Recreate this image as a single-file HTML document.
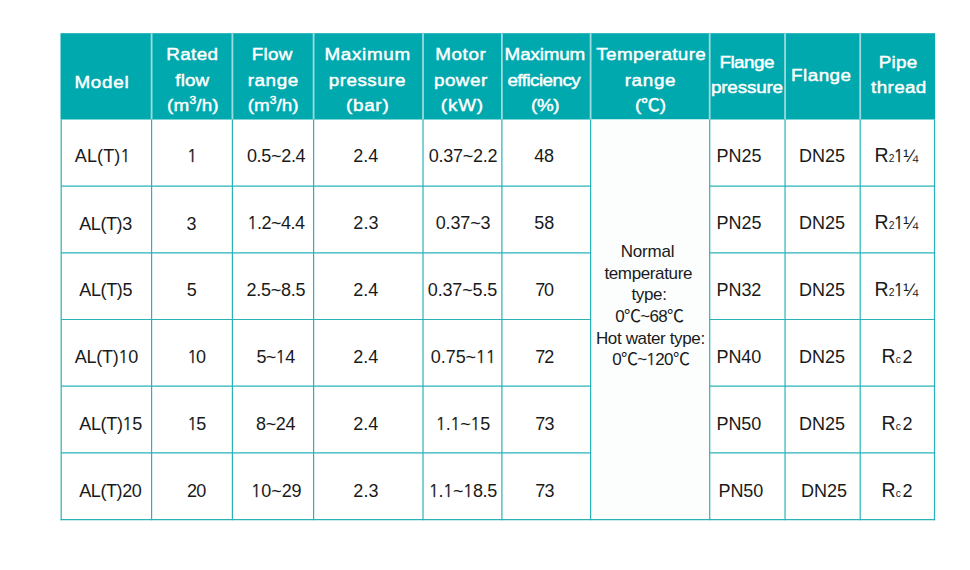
<!DOCTYPE html>
<html lang="en"><head><meta charset="utf-8"><title>AL(T) pump specifications</title>
<style>
html,body{margin:0;padding:0;background:#fff;}
body{width:970px;height:570px;position:relative;overflow:hidden;font-family:"Liberation Sans","Noto Sans CJK SC",sans-serif;}
svg.grid{position:absolute;left:0;top:0;}
.t{position:absolute;white-space:nowrap;line-height:20px;height:20px;transform-origin:0 50%;}
.h{color:#fff;font-size:17.3px;-webkit-text-stroke:0.45px #fff;transform-origin:0 50%;}
.b{color:#1a1a1a;font-size:18px;}
.tp{color:#1a1a1a;font-size:17px;}
.cj{font-family:"Noto Sans CJK SC","Liberation Sans",sans-serif;line-height:0;}
.o{font-family:"NanumGothic","Liberation Sans",sans-serif;font-size:96.4%;line-height:0;-webkit-text-stroke:0.25px #1a1a1a;margin-left:-0.5px;}
sup{font-size:64%;vertical-align:baseline;position:relative;top:-0.62em;line-height:0;}
.rr{font-size:19.5px;line-height:0;letter-spacing:0;}
.sb{font-size:57%;margin-left:0.2px;}

</style></head><body>
<svg class="grid" width="970" height="570" viewBox="0 0 970 570">
<rect x="60.5" y="33.2" width="874.6" height="86.3" fill="#00a9ae"/>
<rect x="590.6" y="119.5" width="119.1" height="400" fill="#fcfefe"/>
<line x1="151.6" y1="33.2" x2="151.6" y2="119.2" stroke="#9ddadd" stroke-width="1.8"/>
<line x1="232.4" y1="33.2" x2="232.4" y2="119.2" stroke="#9ddadd" stroke-width="1.8"/>
<line x1="313.6" y1="33.2" x2="313.6" y2="119.2" stroke="#9ddadd" stroke-width="1.8"/>
<line x1="423" y1="33.2" x2="423" y2="119.2" stroke="#9ddadd" stroke-width="1.8"/>
<line x1="501.9" y1="33.2" x2="501.9" y2="119.2" stroke="#9ddadd" stroke-width="1.8"/>
<line x1="590.6" y1="33.2" x2="590.6" y2="119.2" stroke="#9ddadd" stroke-width="1.8"/>
<line x1="709.7" y1="33.2" x2="709.7" y2="119.2" stroke="#9ddadd" stroke-width="1.8"/>
<line x1="785.05" y1="33.2" x2="785.05" y2="119.2" stroke="#9ddadd" stroke-width="1.8"/>
<line x1="860.2" y1="33.2" x2="860.2" y2="119.2" stroke="#9ddadd" stroke-width="1.8"/>
<line x1="61.2" y1="119.5" x2="61.2" y2="520.2" stroke="#28b2b8" stroke-width="1.2"/>
<line x1="151.6" y1="119.5" x2="151.6" y2="520.2" stroke="#28b2b8" stroke-width="1.2"/>
<line x1="232.4" y1="119.5" x2="232.4" y2="520.2" stroke="#28b2b8" stroke-width="1.2"/>
<line x1="313.6" y1="119.5" x2="313.6" y2="520.2" stroke="#28b2b8" stroke-width="1.2"/>
<line x1="423" y1="119.5" x2="423" y2="520.2" stroke="#28b2b8" stroke-width="1.2"/>
<line x1="501.9" y1="119.5" x2="501.9" y2="520.2" stroke="#28b2b8" stroke-width="1.2"/>
<line x1="590.6" y1="119.5" x2="590.6" y2="520.2" stroke="#28b2b8" stroke-width="1.2"/>
<line x1="709.7" y1="119.5" x2="709.7" y2="520.2" stroke="#28b2b8" stroke-width="1.2"/>
<line x1="785.05" y1="119.5" x2="785.05" y2="520.2" stroke="#28b2b8" stroke-width="1.2"/>
<line x1="860.2" y1="119.5" x2="860.2" y2="520.2" stroke="#28b2b8" stroke-width="1.2"/>
<line x1="934.5" y1="119.5" x2="934.5" y2="520.2" stroke="#28b2b8" stroke-width="1.2"/>
<line x1="61.2" y1="186.2" x2="590.6" y2="186.2" stroke="#28b2b8" stroke-width="1.2"/>
<line x1="709.7" y1="186.2" x2="934.5" y2="186.2" stroke="#28b2b8" stroke-width="1.2"/>
<line x1="61.2" y1="252.8" x2="590.6" y2="252.8" stroke="#28b2b8" stroke-width="1.2"/>
<line x1="709.7" y1="252.8" x2="934.5" y2="252.8" stroke="#28b2b8" stroke-width="1.2"/>
<line x1="61.2" y1="319.5" x2="590.6" y2="319.5" stroke="#28b2b8" stroke-width="1.2"/>
<line x1="709.7" y1="319.5" x2="934.5" y2="319.5" stroke="#28b2b8" stroke-width="1.2"/>
<line x1="61.2" y1="386.2" x2="590.6" y2="386.2" stroke="#28b2b8" stroke-width="1.2"/>
<line x1="709.7" y1="386.2" x2="934.5" y2="386.2" stroke="#28b2b8" stroke-width="1.2"/>
<line x1="61.2" y1="452.8" x2="590.6" y2="452.8" stroke="#28b2b8" stroke-width="1.2"/>
<line x1="709.7" y1="452.8" x2="934.5" y2="452.8" stroke="#28b2b8" stroke-width="1.2"/>
<line x1="60.6" y1="519.7" x2="935.1" y2="519.7" stroke="#28b2b8" stroke-width="1.3"/>
</svg>
<div role="table" aria-label="AL(T) pump specifications">
<div role="row">
<div role="columnheader">
<div class="t h" style="left:0;top:0;letter-spacing:0.64px;transform:translate(74.47px,72.10px) scaleX(1.09)">Model</div>
</div>
<div role="columnheader">
<div class="t h" style="left:0;top:0;letter-spacing:0.35px;transform:translate(166.28px,44.35px) scaleX(1.09)">Rated</div>
<div class="t h" style="left:0;top:0;letter-spacing:0.04px;transform:translate(175.37px,70.10px) scaleX(1.09)">flow</div>
<div class="t h" style="left:0;top:0;letter-spacing:0.16px;transform:translate(167.09px,95.30px) scaleX(1.09)">(m<sup>3</sup>/h)</div>
</div>
<div role="columnheader">
<div class="t h" style="left:0;top:0;letter-spacing:0.19px;transform:translate(251.87px,44.35px) scaleX(1.09)">Flow</div>
<div class="t h" style="left:0;top:0;letter-spacing:0.54px;transform:translate(247.66px,70.10px) scaleX(1.09)">range</div>
<div class="t h" style="left:0;top:0;letter-spacing:-0.01px;transform:translate(247.86px,95.30px) scaleX(1.09)">(m<sup>3</sup>/h)</div>
</div>
<div role="columnheader">
<div class="t h" style="left:0;top:0;letter-spacing:0.62px;transform:translate(324.46px,44.35px) scaleX(1.09)">Maximum</div>
<div class="t h" style="left:0;top:0;letter-spacing:0.47px;transform:translate(328.68px,70.10px) scaleX(1.09)">pressure</div>
<div class="t h" style="left:0;top:0;letter-spacing:0.69px;transform:translate(345.89px,95.30px) scaleX(1.09)">(bar)</div>
</div>
<div role="columnheader">
<div class="t h" style="left:0;top:0;letter-spacing:0.52px;transform:translate(435.28px,44.35px) scaleX(1.09)">Motor</div>
<div class="t h" style="left:0;top:0;letter-spacing:0.46px;transform:translate(433.90px,70.10px) scaleX(1.09)">power</div>
<div class="t h" style="left:0;top:0;letter-spacing:0.81px;transform:translate(440.73px,95.30px) scaleX(1.09)">(kW)</div>
</div>
<div role="columnheader">
<div class="t h" style="left:0;top:0;letter-spacing:-0.14px;transform:translate(504.59px,44.35px) scaleX(1.09)">Maximum</div>
<div class="t h" style="left:0;top:0;letter-spacing:-0.49px;transform:translate(507.39px,70.10px) scaleX(1.09)">efficiency</div>
<div class="t h" style="left:0;top:0;letter-spacing:-0.25px;transform:translate(530.89px,95.30px) scaleX(1.09)">(%)</div>
</div>
<div role="columnheader">
<div class="t h" style="left:0;top:0;letter-spacing:0.35px;transform:translate(596.29px,44.35px) scaleX(1.09)">Temperature</div>
<div class="t h" style="left:0;top:0;letter-spacing:0.63px;transform:translate(624.63px,70.10px) scaleX(1.09)">range</div>
<div class="t h" style="left:0;top:0;letter-spacing:-0.10px;transform:translate(634.89px,95.30px) scaleX(1.09)">(<span class="cj">℃</span>)</div>
</div>
<div role="columnheader">
<div class="t h" style="left:0;top:0;letter-spacing:-0.48px;transform:translate(719.47px,51.60px) scaleX(1.09)">Flange</div>
<div class="t h" style="left:0;top:0;letter-spacing:-0.15px;transform:translate(710.90px,77.40px) scaleX(1.09)">pressure</div>
</div>
<div role="columnheader">
<div class="t h" style="left:0;top:0;letter-spacing:0.44px;transform:translate(791.03px,64.80px) scaleX(1.09)">Flange</div>
</div>
<div role="columnheader">
<div class="t h" style="left:0;top:0;letter-spacing:0.24px;transform:translate(878.63px,51.60px) scaleX(1.09)">Pipe</div>
<div class="t h" style="left:0;top:0;letter-spacing:0.32px;transform:translate(871.11px,77.40px) scaleX(1.09)">thread</div>
</div>
</div>
<div role="row">
<div role="cell"><div class="t b" style="left:0;top:0;letter-spacing:0.12px;transform:translate(74.77px,146.30px)">AL(T)<span class="o">1</span></div></div>
<div role="cell"><div class="t b" style="left:0;top:0;letter-spacing:-0.10px;transform:translate(187.27px,146.30px)"><span class="o">1</span></div></div>
<div role="cell"><div class="t b" style="left:0;top:0;letter-spacing:-0.31px;transform:translate(246.90px,146.30px)">0.5~2.4</div></div>
<div role="cell"><div class="t b" style="left:0;top:0;letter-spacing:-0.07px;transform:translate(353.33px,146.30px)">2.4</div></div>
<div role="cell"><div class="t b" style="left:0;top:0;letter-spacing:-0.26px;transform:translate(428.65px,146.30px)">0.37~2.2</div></div>
<div role="cell"><div class="t b" style="left:0;top:0;letter-spacing:-0.25px;transform:translate(534.31px,146.30px)">48</div></div>
<div role="cell">
<div class="t tp" style="left:0;top:0;letter-spacing:-0.24px;transform:translate(620.83px,242.00px)">Normal</div>
<div class="t tp" style="left:0;top:0;letter-spacing:-0.37px;transform:translate(604.43px,264.30px)">temperature</div>
<div class="t tp" style="left:0;top:0;letter-spacing:-0.34px;transform:translate(631.43px,285.00px)">type:</div>
<div class="t tp" style="left:0;top:0;letter-spacing:-0.71px;transform:translate(615.29px,307.30px)">0<span class="cj">℃</span>~68<span class="cj">℃</span></div>
<div class="t tp" style="left:0;top:0;letter-spacing:-0.36px;transform:translate(595.89px,328.70px)">Hot water type:</div>
<div class="t tp" style="left:0;top:0;letter-spacing:-0.66px;transform:translate(612.14px,350.30px)">0<span class="cj">℃</span>~<span class="o">1</span>20<span class="cj">℃</span></div>
</div>
<div role="cell"><div class="t b" style="left:0;top:0;letter-spacing:-0.06px;transform:translate(716.55px,145.50px)">PN25</div></div>
<div role="cell"><div class="t b" style="left:0;top:0;letter-spacing:-0.02px;transform:translate(799.00px,145.50px)">DN25</div></div>
<div role="cell"><div class="t b" style="left:0;top:0;letter-spacing:-0.66px;transform:translate(874.47px,145.50px)"><span class="rr">R</span><span class="sb">2</span><span class="o">1</span>¼</div></div>
</div>
<div role="row">
<div role="cell"><div class="t b" style="left:0;top:0;letter-spacing:-0.41px;transform:translate(79.25px,214.30px)">AL(T)3</div></div>
<div role="cell"><div class="t b" style="left:0;top:0;letter-spacing:-0.10px;transform:translate(186.39px,214.30px)">3</div></div>
<div role="cell"><div class="t b" style="left:0;top:0;letter-spacing:-0.47px;transform:translate(247.39px,213.30px)"><span class="o">1</span>.2~4.4</div></div>
<div role="cell"><div class="t b" style="left:0;top:0;letter-spacing:0.08px;transform:translate(353.33px,213.30px)">2.3</div></div>
<div role="cell"><div class="t b" style="left:0;top:0;letter-spacing:-0.13px;transform:translate(435.72px,213.30px)">0.37~3</div></div>
<div role="cell"><div class="t b" style="left:0;top:0;letter-spacing:0.01px;transform:translate(534.21px,213.30px)">58</div></div>
<div role="cell"><div class="t b" style="left:0;top:0;letter-spacing:-0.06px;transform:translate(716.55px,212.50px)">PN25</div></div>
<div role="cell"><div class="t b" style="left:0;top:0;letter-spacing:-0.02px;transform:translate(799.00px,212.50px)">DN25</div></div>
<div role="cell"><div class="t b" style="left:0;top:0;letter-spacing:-0.66px;transform:translate(874.47px,212.50px)"><span class="rr">R</span><span class="sb">2</span><span class="o">1</span>¼</div></div>
</div>
<div role="row">
<div role="cell"><div class="t b" style="left:0;top:0;letter-spacing:-0.37px;transform:translate(79.25px,280.30px)">AL(T)5</div></div>
<div role="cell"><div class="t b" style="left:0;top:0;letter-spacing:-0.10px;transform:translate(186.72px,280.30px)">5</div></div>
<div role="cell"><div class="t b" style="left:0;top:0;letter-spacing:-0.27px;transform:translate(246.45px,280.30px)">2.5~8.5</div></div>
<div role="cell"><div class="t b" style="left:0;top:0;letter-spacing:-0.07px;transform:translate(353.33px,280.30px)">2.4</div></div>
<div role="cell"><div class="t b" style="left:0;top:0;letter-spacing:-0.15px;transform:translate(427.79px,280.30px)">0.37~5.5</div></div>
<div role="cell"><div class="t b" style="left:0;top:0;letter-spacing:-1.19px;transform:translate(535.13px,280.30px)">70</div></div>
<div role="cell"><div class="t b" style="left:0;top:0;letter-spacing:-0.08px;transform:translate(716.55px,279.50px)">PN32</div></div>
<div role="cell"><div class="t b" style="left:0;top:0;letter-spacing:-0.02px;transform:translate(799.00px,279.50px)">DN25</div></div>
<div role="cell"><div class="t b" style="left:0;top:0;letter-spacing:-0.66px;transform:translate(874.47px,279.50px)"><span class="rr">R</span><span class="sb">2</span><span class="o">1</span>¼</div></div>
</div>
<div role="row">
<div role="cell"><div class="t b" style="left:0;top:0;letter-spacing:-0.26px;transform:translate(74.77px,347.30px)">AL(T)<span class="o">1</span>0</div></div>
<div role="cell"><div class="t b" style="left:0;top:0;letter-spacing:-1.34px;transform:translate(187.39px,347.30px)"><span class="o">1</span>0</div></div>
<div role="cell"><div class="t b" style="left:0;top:0;letter-spacing:-0.52px;transform:translate(256.38px,347.30px)">5~<span class="o">1</span>4</div></div>
<div role="cell"><div class="t b" style="left:0;top:0;letter-spacing:-0.07px;transform:translate(353.33px,347.30px)">2.4</div></div>
<div role="cell"><div class="t b" style="left:0;top:0;letter-spacing:-0.05px;transform:translate(430.79px,347.30px)">0.75~<span class="o">1</span><span class="o">1</span></div></div>
<div role="cell"><div class="t b" style="left:0;top:0;letter-spacing:-1.00px;transform:translate(535.13px,347.30px)">72</div></div>
<div role="cell"><div class="t b" style="left:0;top:0;letter-spacing:-0.09px;transform:translate(716.55px,346.50px)">PN40</div></div>
<div role="cell"><div class="t b" style="left:0;top:0;letter-spacing:-0.02px;transform:translate(799.00px,346.50px)">DN25</div></div>
<div role="cell"><div class="t b" style="left:0;top:0;letter-spacing:1.56px;transform:translate(881.53px,346.50px)"><span class="rr">R</span><span class="sb">c</span>2</div></div>
</div>
<div role="row">
<div role="cell"><div class="t b" style="left:0;top:0;letter-spacing:-0.33px;transform:translate(79.25px,414.30px)">AL(T)<span class="o">1</span>5</div></div>
<div role="cell"><div class="t b" style="left:0;top:0;letter-spacing:-1.21px;transform:translate(187.39px,414.30px)"><span class="o">1</span>5</div></div>
<div role="cell"><div class="t b" style="left:0;top:0;letter-spacing:-0.28px;transform:translate(255.90px,414.30px)">8~24</div></div>
<div role="cell"><div class="t b" style="left:0;top:0;letter-spacing:-0.07px;transform:translate(353.33px,414.30px)">2.4</div></div>
<div role="cell"><div class="t b" style="left:0;top:0;letter-spacing:-0.26px;transform:translate(435.89px,414.30px)"><span class="o">1</span>.<span class="o">1</span>~<span class="o">1</span>5</div></div>
<div role="cell"><div class="t b" style="left:0;top:0;letter-spacing:-0.70px;transform:translate(535.13px,414.30px)">73</div></div>
<div role="cell"><div class="t b" style="left:0;top:0;letter-spacing:-0.09px;transform:translate(716.55px,413.50px)">PN50</div></div>
<div role="cell"><div class="t b" style="left:0;top:0;letter-spacing:-0.02px;transform:translate(799.00px,413.50px)">DN25</div></div>
<div role="cell"><div class="t b" style="left:0;top:0;letter-spacing:1.56px;transform:translate(881.53px,413.50px)"><span class="rr">R</span><span class="sb">c</span>2</div></div>
</div>
<div role="row">
<div role="cell"><div class="t b" style="left:0;top:0;letter-spacing:-0.41px;transform:translate(79.25px,481.30px)">AL(T)20</div></div>
<div role="cell"><div class="t b" style="left:0;top:0;letter-spacing:-0.70px;transform:translate(186.88px,481.30px)">20</div></div>
<div role="cell"><div class="t b" style="left:0;top:0;letter-spacing:-0.07px;transform:translate(251.30px,481.30px)"><span class="o">1</span>0~29</div></div>
<div role="cell"><div class="t b" style="left:0;top:0;letter-spacing:0.08px;transform:translate(353.33px,481.30px)">2.3</div></div>
<div role="cell"><div class="t b" style="left:0;top:0;letter-spacing:-0.31px;transform:translate(428.89px,481.30px)"><span class="o">1</span>.<span class="o">1</span>~<span class="o">1</span>8.5</div></div>
<div role="cell"><div class="t b" style="left:0;top:0;letter-spacing:-0.70px;transform:translate(535.13px,481.30px)">73</div></div>
<div role="cell"><div class="t b" style="left:0;top:0;letter-spacing:-0.09px;transform:translate(718.55px,480.50px)">PN50</div></div>
<div role="cell"><div class="t b" style="left:0;top:0;letter-spacing:-0.02px;transform:translate(801.00px,480.50px)">DN25</div></div>
<div role="cell"><div class="t b" style="left:0;top:0;letter-spacing:1.56px;transform:translate(881.53px,480.50px)"><span class="rr">R</span><span class="sb">c</span>2</div></div>
</div>
</div>
</body></html>
